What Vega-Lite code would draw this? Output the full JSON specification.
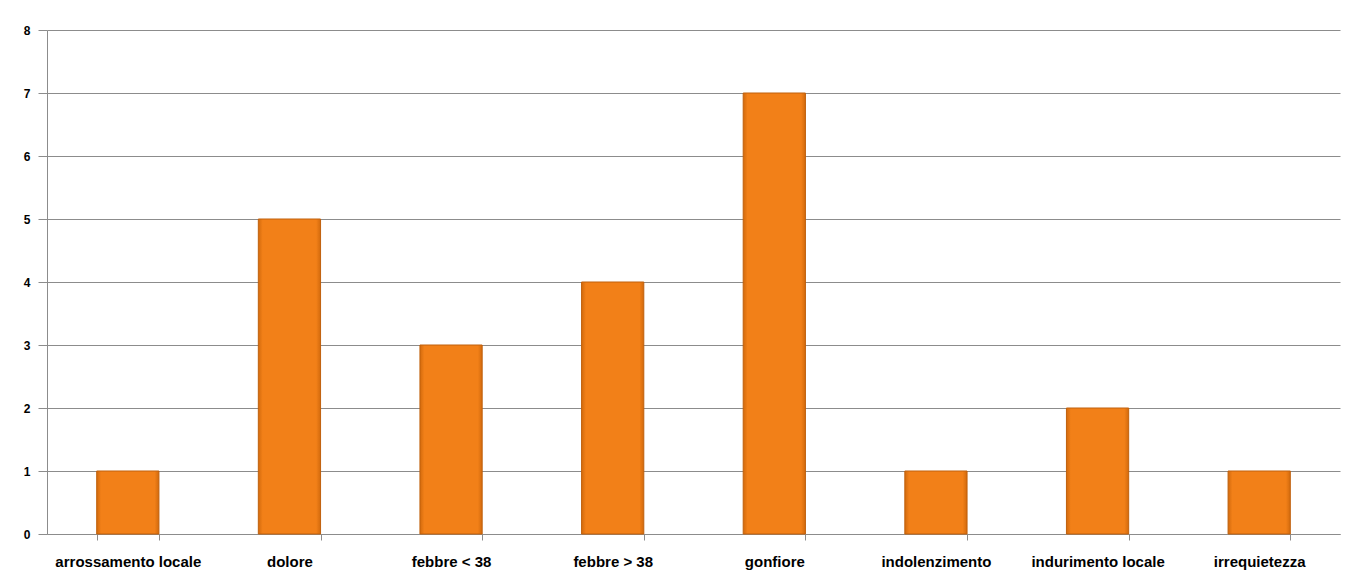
{
  "$schema": "https://vega.github.io/schema/vega-lite/v6.json",
  "autosize": "none",
  "width": 1293,
  "height": 504,
  "padding": {"left": 47, "top": 30, "right": 15, "bottom": 43},
  "background": "white",
  "config": {
    "view": {"stroke": null},
    "axis": {
      "labelFont": "Liberation Sans",
      "labelFontWeight": "bold",
      "labelColor": "#000000",
      "domainColor": "#8c8c8c",
      "tickColor": "#8c8c8c",
      "gridColor": "#8c8c8c",
      "title": null
    }
  },
  "data": {
    "values": [
      {"sintomo": "arrossamento locale", "casi": 1},
      {"sintomo": "dolore", "casi": 5},
      {"sintomo": "febbre < 38", "casi": 3},
      {"sintomo": "febbre > 38", "casi": 4},
      {"sintomo": "gonfiore", "casi": 7},
      {"sintomo": "indolenzimento", "casi": 1},
      {"sintomo": "indurimento locale", "casi": 2},
      {"sintomo": "irrequietezza", "casi": 1}
    ]
  },
  "mark": {
    "type": "bar",
    "stroke": "#c0600c",
    "strokeWidth": 1,
    "fill": {
      "x1": 0, "y1": 0, "x2": 1, "y2": 0,
      "gradient": "linear",
      "stops": [
        {"offset": 0, "color": "#d26a0d"},
        {"offset": 0.07, "color": "#f28018"},
        {"offset": 0.93, "color": "#f28018"},
        {"offset": 1, "color": "#d26a0d"}
      ]
    }
  },
  "encoding": {
    "x": {
      "field": "sintomo",
      "type": "nominal",
      "sort": null,
      "scale": {"paddingInner": 0.615, "paddingOuter": 0.3075},
      "axis": {
        "labelAngle": 0,
        "labelFontSize": 15,
        "labelPadding": 14,
        "tickBand": "extent",
        "tickSize": 6,
        "domain": true
      }
    },
    "y": {
      "field": "casi",
      "type": "quantitative",
      "scale": {"domain": [0, 8]},
      "axis": {
        "values": [0, 1, 2, 3, 4, 5, 6, 7, 8],
        "grid": true,
        "tickSize": 9,
        "labelFontSize": 12,
        "labelPadding": 8,
        "domain": true
      }
    }
  }
}
